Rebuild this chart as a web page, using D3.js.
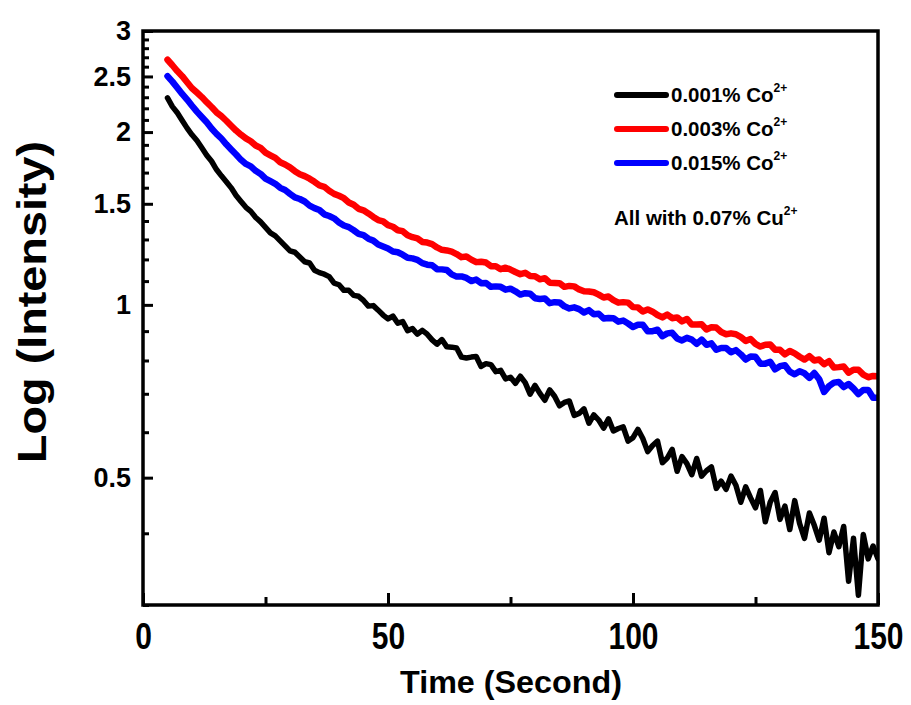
<!DOCTYPE html>
<html><head><meta charset="utf-8">
<script src="https://cdn.jsdelivr.net/npm/d3@7"></script>
<style>
html,body{margin:0;padding:0;background:#fff;}
svg text{font-family:"Liberation Sans",Arial,sans-serif;font-weight:bold;fill:#000;}
</style></head><body>
<svg id="chart" width="911" height="705"></svg>
<script>
// ---- data ----
const time = d3.range(5, 151, 1); // seconds, one sample per second
const seriesNames = ["0.001% Co", "0.003% Co", "0.015% Co"];
const seriesColors = ["#000000", "#ff0000", "#0000ff"];
const black001 = [
2.294,2.215,2.161,2.095,2.032,1.978,
1.933,1.878,1.823,1.779,1.721,
1.678,1.639,1.599,1.551,1.514,
1.479,1.455,1.420,1.395,1.365,
1.335,1.319,1.293,1.267,1.242,
1.235,1.212,1.189,1.183,1.149,
1.138,1.131,1.120,1.091,1.084,
1.060,1.060,1.039,1.035,1.018,
0.995,0.997,0.979,0.960,0.945,
0.956,0.929,0.935,0.902,0.909,
0.889,0.903,0.889,0.869,0.854,
0.870,0.845,0.844,0.841,0.811,
0.808,0.811,0.813,0.781,0.790,
0.787,0.765,0.769,0.743,0.748,
0.730,0.751,0.732,0.699,0.724,
0.701,0.682,0.711,0.693,0.667,
0.676,0.680,0.642,0.647,0.659,
0.622,0.643,0.630,0.610,0.633,
0.603,0.609,0.613,0.579,0.587,
0.607,0.585,0.555,0.569,0.579,
0.531,0.541,0.560,0.513,0.544,
0.529,0.506,0.540,0.503,0.514,
0.522,0.479,0.493,0.477,0.503,
0.485,0.453,0.482,0.461,0.443,
0.475,0.419,0.453,0.471,0.423,
0.446,0.406,0.456,0.416,0.392,
0.434,0.413,0.389,0.425,0.370,
0.402,0.379,0.411,0.330,0.392,
0.312,0.398,0.361,0.380,0.361];
const red003 = [
2.673,2.615,2.555,2.503,2.443,2.385,
2.344,2.302,2.255,2.212,2.165,
2.132,2.093,2.052,2.012,1.979,
1.950,1.928,1.895,1.877,1.842,
1.822,1.803,1.772,1.756,1.736,
1.710,1.689,1.676,1.659,1.638,
1.615,1.606,1.581,1.561,1.549,
1.534,1.508,1.494,1.470,1.461,
1.443,1.423,1.405,1.398,1.377,
1.368,1.349,1.344,1.322,1.312,
1.306,1.287,1.284,1.276,1.259,
1.247,1.244,1.238,1.226,1.211,
1.214,1.199,1.187,1.189,1.185,
1.168,1.168,1.154,1.161,1.152,
1.141,1.131,1.137,1.123,1.122,
1.108,1.113,1.093,1.092,1.091,
1.075,1.079,1.077,1.064,1.056,
1.055,1.052,1.042,1.030,1.034,
1.019,1.009,1.011,1.009,0.991,
0.990,0.974,0.982,0.973,0.960,
0.951,0.962,0.948,0.951,0.936,
0.945,0.924,0.924,0.925,0.906,
0.914,0.913,0.897,0.889,0.892,
0.889,0.879,0.865,0.872,0.855,
0.846,0.852,0.853,0.835,0.835,
0.820,0.831,0.823,0.812,0.803,
0.814,0.800,0.803,0.788,0.798,
0.778,0.779,0.781,0.762,0.771,
0.771,0.756,0.748,0.752,0.751];
const blue015 = [
2.503,2.449,2.390,2.331,2.279,2.223,
2.171,2.125,2.081,2.029,1.986,
1.949,1.904,1.865,1.828,1.789,
1.760,1.743,1.712,1.691,1.659,
1.642,1.625,1.599,1.585,1.561,
1.539,1.529,1.514,1.489,1.474,
1.463,1.438,1.428,1.415,1.392,
1.375,1.366,1.349,1.330,1.323,
1.304,1.294,1.274,1.264,1.254,
1.239,1.235,1.223,1.208,1.205,
1.198,1.182,1.175,1.172,1.154,
1.153,1.150,1.130,1.120,1.121,
1.114,1.100,1.107,1.091,1.092,
1.075,1.077,1.075,1.063,1.067,
1.056,1.042,1.048,1.046,1.027,
1.024,1.026,1.007,1.011,1.010,
0.994,0.986,0.990,0.983,0.970,
0.979,0.963,0.965,0.947,0.949,
0.948,0.935,0.939,0.928,0.915,
0.923,0.923,0.900,0.900,0.905,
0.882,0.892,0.894,0.874,0.867,
0.876,0.870,0.855,0.870,0.852,
0.857,0.835,0.841,0.841,0.827,
0.834,0.820,0.803,0.813,0.812,
0.790,0.790,0.796,0.772,0.782,
0.785,0.765,0.757,0.766,0.760,
0.746,0.761,0.742,0.705,0.722,
0.732,0.734,0.719,0.728,0.715,
0.699,0.711,0.711,0.689,0.689];
const seriesValues = [black001, red003, blue015];
const xTickValues = [0, 50, 100, 150];
const xMinorTicks = [25, 75, 125];
const yTickValues = [0.5, 1, 1.5, 2, 2.5, 3];
const yTickLabels = ["0.5", "1", "1.5", "2", "2.5", "3"];
const yMinorTicks = [0.3,0.4,0.6,0.7,0.8,0.9,1.1,1.2,1.3,1.4,1.6,1.7,1.8,1.9,2.1,2.2,2.3,2.4,2.6,2.7,2.8,2.9];
const xTitle = "Time (Second)";
const yTitle = "Log (Intensity)";
const noteText = "All with 0.07% Cu";

// ---- layout ----
const L = 143, R = 878, T = 31, B = 605;
const svg = d3.select("#chart");
const x = d3.scaleLinear().domain([0, 150]).range([L, R]);
const y = d3.scaleLog().domain([0.3, 3]).range([B, T]);

svg.append("defs").append("clipPath").attr("id", "clip")
  .append("rect").attr("x", L).attr("y", T).attr("width", R - L).attr("height", B - T);

// lines
const line = d3.line().x((d, i) => x(time[i])).y(d => y(d));
const order = [0, 1, 2];
const g = svg.append("g").attr("clip-path", "url(#clip)");
order.forEach(k => {
  g.append("path").datum(seriesValues[k])
    .attr("fill", "none").attr("stroke", seriesColors[k])
    .attr("stroke-width", k === 0 ? 5.5 : 6.5)
    .attr("stroke-linejoin", "round").attr("stroke-linecap", "round")
    .attr("d", line);
});

// axes
const xAxis = svg.append("g").attr("transform", `translate(0,${B})`)
  .call(d3.axisBottom(x).tickValues(xTickValues).tickSize(-12).tickPadding(12).tickFormat(d3.format("d")));
const xAxisMinor = svg.append("g").attr("transform", `translate(0,${B})`)
  .call(d3.axisBottom(x).tickValues(xMinorTicks).tickSize(-8).tickFormat(""));
const yAxis = svg.append("g").attr("transform", `translate(${L},0)`)
  .call(d3.axisLeft(y).tickValues(yTickValues).tickSize(-10).tickPadding(12).tickFormat((d, i) => yTickLabels[i]));
const yAxisMinor = svg.append("g").attr("transform", `translate(${L},0)`)
  .call(d3.axisLeft(y).tickValues(yMinorTicks).tickSize(-6).tickFormat(""));
[xAxis, xAxisMinor, yAxis, yAxisMinor].forEach(a => {
  a.select(".domain").remove();
  a.selectAll(".tick line").attr("stroke", "#000").attr("stroke-width", 3);
});
// x tick labels: tall, slightly condensed glyphs as in the reference
xAxis.selectAll(".tick text")
  .attr("y", null).attr("dy", null)
  .attr("font-size", 30)
  .attr("transform", "translate(0,30) scale(1,1.25) translate(0,11)")
  .style("font-family", "'Liberation Sans',Arial,sans-serif").style("font-weight", "bold");
yAxis.selectAll(".tick text").attr("font-size", 27)
  .style("font-family", "'Liberation Sans',Arial,sans-serif").style("font-weight", "bold");

// frame
svg.append("rect").attr("x", L).attr("y", T).attr("width", R - L).attr("height", B - T)
  .attr("fill", "none").attr("stroke", "#000").attr("stroke-width", 3.5);

// titles
svg.append("text").attr("x", 511).attr("y", 693).attr("text-anchor", "middle")
  .attr("font-size", 32).attr("textLength", 222).attr("lengthAdjust", "spacingAndGlyphs").text(xTitle);
svg.append("text").attr("transform", "translate(46,302) rotate(-90)").attr("text-anchor", "middle")
  .attr("font-size", 40).attr("textLength", 322).attr("lengthAdjust", "spacingAndGlyphs").text(yTitle);

// legend
const lg = svg.append("g");
const legY = [95, 129, 163];
order.forEach(k => {
  lg.append("line").attr("x1", 617).attr("x2", 666).attr("y1", legY[k]).attr("y2", legY[k])
    .attr("stroke", seriesColors[k]).attr("stroke-width", 6).attr("stroke-linecap", "round");
  const t = lg.append("text").attr("x", 671).attr("y", legY[k] + 7).attr("font-size", 20.5);
  t.append("tspan").text(seriesNames[k]);
  t.append("tspan").attr("font-size", 12).attr("dy", -10).text("2+");
});
const nt = lg.append("text").attr("x", 614).attr("y", 225).attr("font-size", 20.5);
nt.append("tspan").text(noteText);
nt.append("tspan").attr("font-size", 12).attr("dy", -10).text("2+");
</script>
</body></html>
